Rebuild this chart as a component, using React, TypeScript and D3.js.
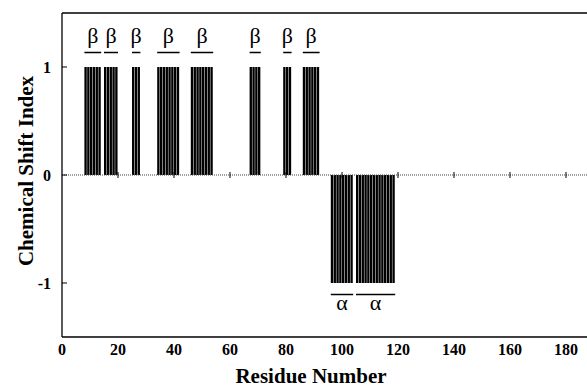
import * as React from 'react';
import * as d3 from 'd3';

// residues with CSI = +1 (beta) and -1 (alpha)
const betaResidues = [8, 9, 10, 11, 12, 13, 15, 16, 17, 18, 19, 25, 26, 27, 34, 35, 36, 37, 38, 39, 40, 41,
    46, 47, 48, 49, 50, 51, 52, 53, 67, 68, 69, 70, 79, 80, 81, 86, 87, 88, 89, 90, 91];
const alphaResidues = [96, 97, 98, 99, 100, 101, 102, 103, 105, 106, 107, 108, 109, 110, 111, 112, 113, 114,
    115, 116, 117, 118];

// secondary structure segments: [first residue, last residue]
const betaSegments = [[8, 13], [15, 19], [25, 27], [34, 41], [46, 53], [67, 70], [79, 81], [86, 91]];
const alphaSegments = [[96, 103], [105, 118]];

const xTicks = [0, 20, 40, 60, 80, 100, 120, 140, 160, 180];
const yTicks = [-1, 0, 1];

const W = 587, H = 388;
const margin = { left: 62, top: 13, bottom: 51 };

export default function App() {
    const x = d3.scaleLinear().domain([0, 190]).range([margin.left, margin.left + 532]);
    const y = d3.scaleLinear().domain([-1.5, 1.5]).range([H - margin.bottom, margin.top]);

    let bars = betaResidues.map(r => ({ r: r, v: 1 })).concat(alphaResidues.map(r => ({ r: r, v: -1 })));
    const font = '"Liberation Serif", "Times New Roman", serif';

    return (
        <div style={{ position: 'absolute', left: 0, top: 0 }}>
            <svg width={W} height={H} style={{ display: 'block', background: '#fff' }} fontFamily={font}>
                {bars.map((d, i) => (
                    <rect key={i}
                          x={x(d.r)}
                          y={Math.min(y(0), y(d.v))}
                          width={x(d.r + 1) - x(d.r) - 0.45}
                          height={Math.abs(y(d.v) - y(0))}
                          fill="#000"/>
                ))}
                {/* zero line with ticks */}
                <line x1={margin.left} x2={W} y1={y(0)} y2={y(0)} stroke="#444" strokeWidth={1} strokeDasharray="1,1"/>
                {xTicks.slice(1).map(t => (
                    <line key={t} x1={x(t)} x2={x(t)} y1={y(0) - 3} y2={y(0) + 3} stroke="#000" strokeWidth={1}/>
                ))}
                {/* frame */}
                <line x1={margin.left} x2={W} y1={y(1.5)} y2={y(1.5)} stroke="#000" strokeWidth={1.3}/>
                <line x1={margin.left} x2={W} y1={y(-1.5)} y2={y(-1.5)} stroke="#000" strokeWidth={1.3}/>
                <line x1={margin.left} x2={margin.left} y1={y(1.5)} y2={y(-1.5)} stroke="#000" strokeWidth={1.3}/>
                {yTicks.map(t => (
                    <g key={t}>
                        <line x1={margin.left} x2={margin.left + 5} y1={y(t)} y2={y(t)} stroke="#000" strokeWidth={1}/>
                        <text x={margin.left - 11} y={y(t)} dy="0.35em" textAnchor="end" fontSize={16}
                              fontWeight="bold">{t}</text>
                    </g>
                ))}
                {xTicks.map(t => (
                    <text key={t} x={x(t)} y={355} textAnchor="middle" fontSize={16} fontWeight="bold">{t}</text>
                ))}
                {betaSegments.map((s, i) => (
                    <g key={'b' + i}>
                        <line x1={x(s[0])} x2={x(s[1] + 1)} y1={52.5} y2={52.5} stroke="#000" strokeWidth={1.5}/>
                        <text x={(x(s[0]) + x(s[1] + 1)) / 2} y={43} textAnchor="middle" fontSize={22}>β</text>
                    </g>
                ))}
                {alphaSegments.map((s, i) => (
                    <g key={'a' + i}>
                        <line x1={x(s[0])} x2={x(s[1] + 1)} y1={294.5} y2={294.5} stroke="#000" strokeWidth={1.5}/>
                        <text x={(x(s[0]) + x(s[1] + 1)) / 2} y={310} textAnchor="middle" fontSize={22}>α</text>
                    </g>
                ))}
                <text x={311} y={383} textAnchor="middle" fontSize={21} fontWeight="bold">Residue Number</text>
                <text transform={'translate(33,' + 171 + ') rotate(-90)'} textAnchor="middle" fontSize={21}
                      fontWeight="bold">Chemical Shift Index</text>
            </svg>
        </div>
    );
}
